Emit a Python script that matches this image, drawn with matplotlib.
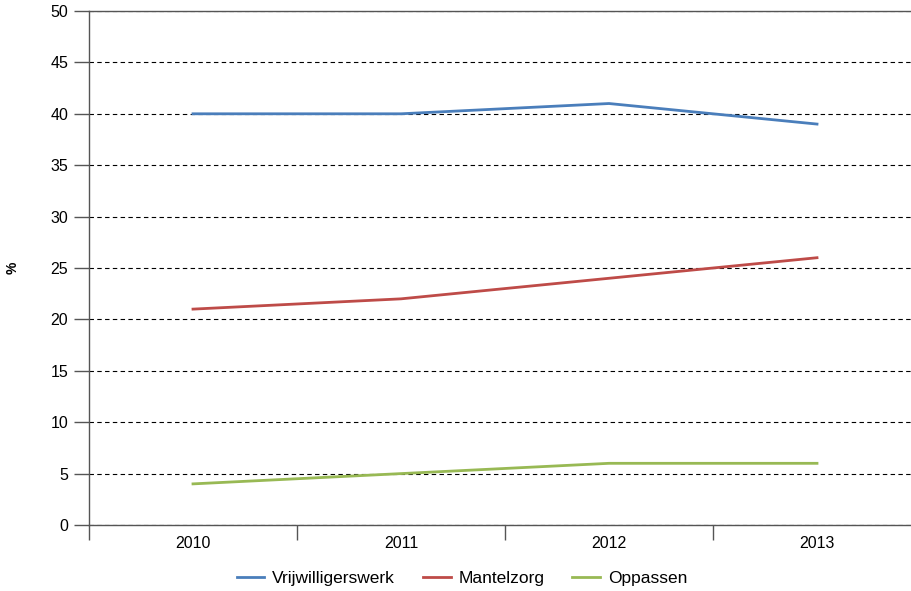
import matplotlib
matplotlib.use("Agg")
import matplotlib.pyplot as plt
import numpy as np

plt.rcParams['font.family'] = ['Liberation Sans', 'DejaVu Sans']

years = ["2010", "2011", "2012", "2013"]
vrijwilligerswerk = [40, 40, 41, 39]
mantelzorg = [21, 22, 24, 26]
oppassen = [4, 5, 6, 6]

fig = plt.figure(figsize=(9.12, 5.91), dpi=100)
ax = fig.add_axes([89 / 912, 66 / 591, 832 / 912, 514 / 591])

x = np.arange(len(years))
ax.plot(x, vrijwilligerswerk, color="#4a7ebb", lw=2.0, label="Vrijwilligerswerk", zorder=3)
ax.plot(x, mantelzorg, color="#be4b48", lw=2.0, label="Mantelzorg", zorder=3)
ax.plot(x, oppassen, color="#98b954", lw=2.0, label="Oppassen", zorder=3)

ax.set_xlim(-0.5, len(years) - 0.5)
ax.set_ylim(0, 50)
ax.set_yticks(np.arange(0, 51, 5))
ax.yaxis.grid(True, linestyle=(0, (4, 3)), color="black", lw=0.8)
ax.set_axisbelow(True)

# category axis: tick marks between categories, labels centred
ax.set_xticks(np.arange(-0.5, len(years), 1.0))
ax.set_xticklabels([])
ax.set_xticks(x, minor=True)
ax.set_xticklabels(years, minor=True)
ax.tick_params(axis="x", which="minor", length=0, pad=8, labelsize=11.5)
ax.tick_params(axis="x", which="major", length=11, width=1, color="#555555")
ax.tick_params(axis="y", length=11, width=1, color="#555555", labelsize=11.5, pad=4)

for side in ["left", "bottom", "top"]:
    ax.spines[side].set_color("#555555")
    ax.spines[side].set_linewidth(1.0)
ax.spines["right"].set_visible(False)

ax.set_ylabel("%", fontsize=10, fontweight="bold")
ax.yaxis.set_label_coords((20 - 89) / 832, 0.5)

fig.legend(loc="center", bbox_to_anchor=(462 / 912, 1 - 578 / 591),
           ncol=3, frameon=False, fontsize=12.5, handlelength=1.6, columnspacing=1.6,
           handletextpad=0.45)

fig.savefig("out.png", dpi=100)
